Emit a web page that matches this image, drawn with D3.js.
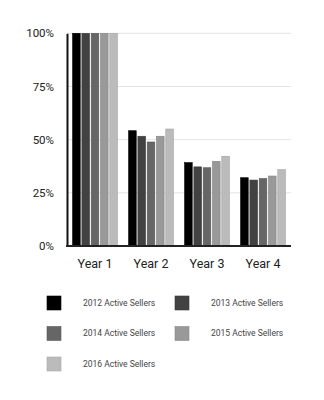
<!DOCTYPE html>
<html><head><meta charset="utf-8">
<script src="https://cdn.jsdelivr.net/npm/d3@7"></script>
<style>body{margin:0;background:#fff;} svg{display:block;font-family:Roboto,sans-serif;}</style>
</head><body><svg id="c" width="324" height="400"></svg>
<script>
const categories = ["Year 1","Year 2","Year 3","Year 4"];
const seriesNames = ["2012 Active Sellers","2013 Active Sellers","2014 Active Sellers","2015 Active Sellers","2016 Active Sellers"];
const s2012 = [100, 54.2, 39.2, 32.1];
const s2013 = [100, 51.6, 37.2, 31.0];
const s2014 = [100, 48.9, 36.8, 31.7];
const s2015 = [100, 51.6, 39.8, 32.9];
const s2016 = [100, 55.0, 42.2, 35.9];
const yTicks = [0, 25, 50, 75, 100];
const colors = ["#000000","#424242","#666666","#999999","#bbbbbb"];
const series = [s2012,s2013,s2014,s2015,s2016];

const svg = d3.select("#c");
const L = 67, R = 291, T = 33.3, B = 246;
const x0 = d3.scaleBand().domain(categories).range([L, R]).paddingInner(0.2).paddingOuter(0.1);
const x1 = d3.scaleBand().domain(d3.range(series.length)).range([0, x0.bandwidth()]).paddingInner(0.18);
const y = d3.scaleLinear().domain([0, 100]).range([B, T]);

// gridlines
svg.append("g").selectAll("line").data(yTicks.filter(d=>d>0)).join("line")
  .attr("x1", L).attr("x2", R).attr("y1", d=>y(d)).attr("y2", d=>y(d))
  .attr("stroke", "#e4e4e4").attr("stroke-width", 1);

// bars
const g = svg.append("g");
series.forEach((s, i) => {
  g.selectAll(null).data(s).join("rect")
    .attr("x", (d, j) => x0(categories[j]) + x1(i))
    .attr("width", x1.bandwidth())
    .attr("y", d => y(d))
    .attr("height", d => B - y(d))
    .attr("fill", colors[i])
    .attr("stroke", d3.color(colors[i]).darker(0.4))
    .attr("stroke-width", 0.6);
});

// y axis
const yAxis = d3.axisLeft(y).tickValues(yTicks).tickFormat(d => d + "%").tickSize(0).tickPadding(13);
const ya = svg.append("g").attr("transform", `translate(${L},0)`).call(yAxis);
ya.select(".domain").attr("stroke", "#111").attr("stroke-width", 2);
ya.selectAll("text").attr("font-size", 11.5).attr("fill", "#222").attr("font-family","Roboto");

// x axis
const xAxis = d3.axisBottom(x0).tickSize(0).tickPadding(13);
const xa = svg.append("g").attr("transform", `translate(0,${B})`).call(xAxis);
xa.select(".domain").attr("stroke", "#222").attr("stroke-width", 2).attr("d", `M${L-1},0H${R}`);
xa.selectAll("text").attr("font-size", 12.5).attr("fill", "#222").attr("font-family","Roboto");

// legend
const leg = svg.append("g");
seriesNames.forEach((n, i) => {
  const col = i % 2, row = Math.floor(i / 2);
  const lx = 47 + col * 128, ly = 296 + row * 30.5;
  leg.append("rect").attr("x", lx).attr("y", ly).attr("width", 14).attr("height", 14)
    .attr("fill", colors[i]).attr("stroke", d3.color(colors[i]).darker(0.3)).attr("stroke-width", 0.6);
  leg.append("text").attr("x", lx + 36).attr("y", ly + 7).attr("dy", "0.35em")
    .attr("font-size", 8.5).attr("fill", "#444").text(n);
});
</script></body></html>
